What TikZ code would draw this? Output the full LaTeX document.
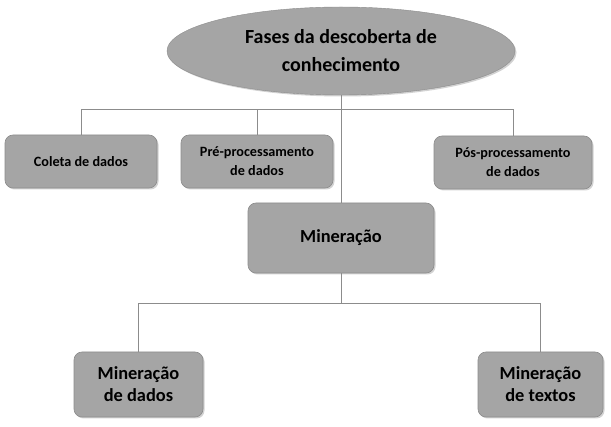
\documentclass[tikz,border=0pt]{standalone}
\usepackage{fontspec}
\setmainfont{Carlito}
\usetikzlibrary{shapes.geometric,shadows}
\definecolor{boxfill}{HTML}{A5A5A5}
\definecolor{linegray}{HTML}{8C8C8C}
\tikzset{
  box/.style={draw=boxfill!85!black, line width=0.6pt, fill=boxfill, rounded corners=8pt, align=center, font=\bfseries,
    drop shadow={shadow xshift=1.5pt, shadow yshift=-1.5pt, fill=black!35, opacity=0.5}, inner sep=0pt},
  smalltxt/.style={font=\fontsize{14.2}{19}\selectfont\bfseries},
  bigtxt/.style={font=\fontsize{18.4}{22}\selectfont\bfseries},
  conn/.style={draw=linegray, line width=0.9pt},
}
\begin{document}
\begin{tikzpicture}[x=1pt,y=-1pt]
\useasboundingbox (0,0) rectangle (611,427);
\node[ellipse, draw=boxfill!85!black, fill=boxfill, minimum width=348pt, minimum height=88pt, align=center,
  font=\fontsize{20}{28}\selectfont\bfseries, inner sep=0pt,
  drop shadow={shadow xshift=1.5pt, shadow yshift=-1.5pt, fill=black!35, opacity=0.5}] (root) at (341,51) {Fases da descoberta de\\conhecimento};
\node[box, smalltxt, minimum width=152pt, minimum height=53pt] (coleta) at (81,161.5) {Coleta de dados};
\node[box, smalltxt, minimum width=152pt, minimum height=53pt] (pre) at (257,161.5) {Pré-processamento\\de dados};
\node[box, smalltxt, minimum width=158pt, minimum height=53pt] (pos) at (513,162.5) {Pós-processamento\\de dados};
\node[box, bigtxt, minimum width=186pt, minimum height=70pt] (min) at (341,238) {Mineração};
\node[box, bigtxt, minimum width=129pt, minimum height=65pt] (md) at (138.5,384.5) {Mineração\\de dados};
\node[box, bigtxt, minimum width=125pt, minimum height=65pt] (mt) at (540.5,384.5) {Mineração\\de textos};
\coordinate (h1) at (341,109);
\coordinate (h2) at (341,303);
\draw[conn] (root.south) -- (min.north);
\draw[conn] (coleta.north) -- (coleta.north |- h1) -- (pos.north |- h1) -- (pos.north);
\draw[conn] (pre.north) -- (pre.north |- h1);
\draw[conn] (min.south) -- (h2);
\draw[conn] (md.north) -- (md.north |- h2) -- (mt.north |- h2) -- (mt.north);
\end{tikzpicture}
\end{document}
